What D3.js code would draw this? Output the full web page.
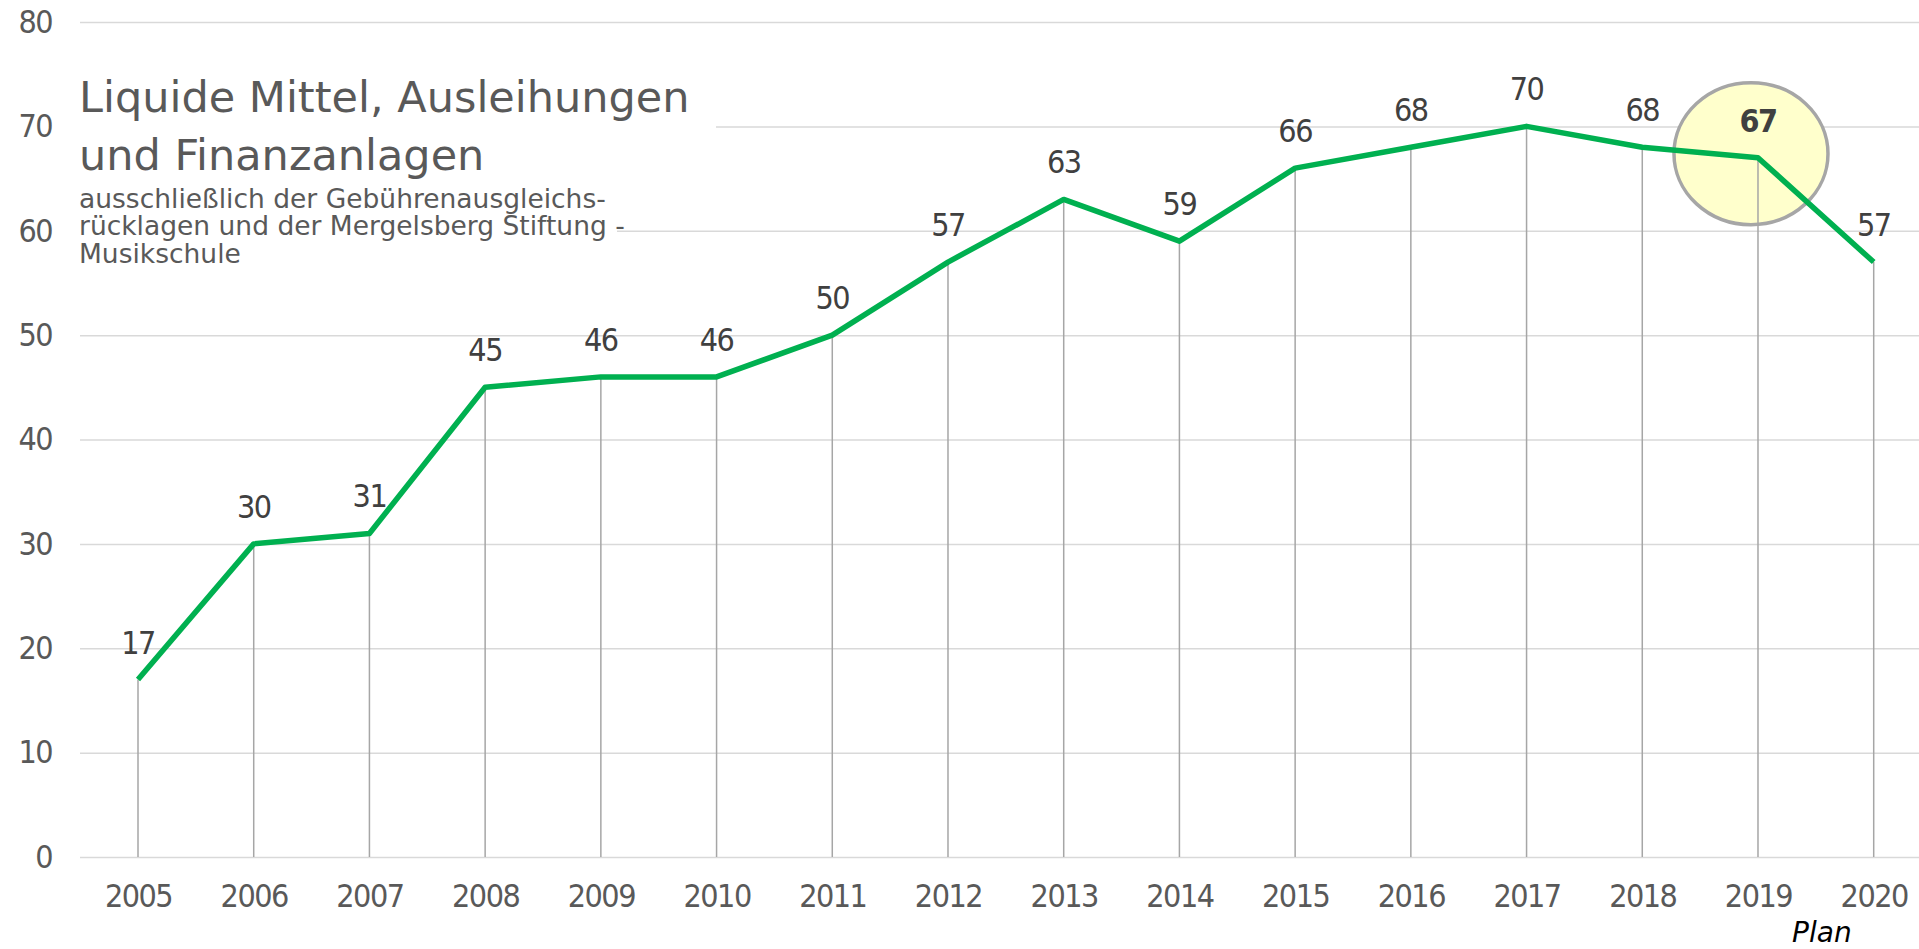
<!DOCTYPE html>
<html lang="de">
<head>
<meta charset="utf-8">
<title>Liquide Mittel, Ausleihungen und Finanzanlagen</title>
<script src="https://d3js.org/d3.v7.min.js"></script>
<style>
  body { margin: 0; background: #fff; }
  .num { font-family: "DejaVu Sans Condensed", "DejaVu Sans", sans-serif; font-stretch: condensed; letter-spacing: -1.5px; }
  .txt { font-family: "DejaVu Sans", sans-serif; }
</style>
</head>
<body>
<script>
// data
const years  = ["2005","2006","2007","2008","2009","2010","2011","2012","2013","2014","2015","2016","2017","2018","2019","2020"];
const values = [17, 30, 31, 45, 46, 46, 50, 57, 63, 59, 66, 68, 70, 68, 67, 57];
const yTicks = [0, 10, 20, 30, 40, 50, 60, 70, 80];
const highlightYear = "2019";
const planYear = "2020";
const titleLines = ["Liquide Mittel, Ausleihungen", "und Finanzanlagen"];
const subLines = ["ausschließlich der Gebührenausgleichs-", "rücklagen und der Mergelsberg Stiftung -", "Musikschule"];

const width = 1919, height = 949;

const x = d3.scalePoint().domain(years).range([138, 1873.7]);
const y = d3.scaleLinear().domain([0, 80]).range([857, 22]);

const svg = d3.select("body").append("svg")
  .attr("width", width)
  .attr("height", height);

// gridlines
const grid = svg.append("g")
  .attr("transform", "translate(80,0)")
  .call(d3.axisRight(y).tickValues(yTicks).tickSize(width - 80).tickFormat(""));
grid.select(".domain").remove();
grid.selectAll("line").attr("stroke", "#d9d9d9").attr("stroke-width", 1.5);

// y labels
const yAxis = svg.append("g")
  .attr("class", "num")
  .attr("transform", "translate(52,0)")
  .call(d3.axisLeft(y).tickValues(yTicks).tickSize(0).tickPadding(0));
yAxis.select(".domain").remove();
yAxis.selectAll("text").attr("fill", "#595959").style("font-size", "32px");

// x labels
const xAxis = svg.append("g")
  .attr("class", "num")
  .attr("transform", `translate(0,${y(0)})`)
  .call(d3.axisBottom(x).tickSize(0));
xAxis.select(".domain").remove();
xAxis.selectAll("text").attr("fill", "#595959").style("font-size", "32px")
  .attr("y", 50).attr("dy", 0);

svg.append("text")
  .attr("class", "txt")
  .attr("x", x(planYear) - 22)
  .attr("y", 942)
  .attr("text-anchor", "end")
  .attr("font-style", "italic")
  .attr("font-size", 28)
  .attr("fill", "#000")
  .text("Plan");

// title boxes (white background hides gridlines)
svg.append("rect").attr("x", 78).attr("y", 66).attr("width", 638).attr("height", 116).attr("fill", "#fff");
svg.append("rect").attr("x", 78).attr("y", 186).attr("width", 539).attr("height", 86).attr("fill", "#fff");

svg.append("g").attr("class", "txt")
  .selectAll("text").data(titleLines).join("text")
  .attr("x", 79)
  .attr("y", (d, i) => 112 + i * 58)
  .attr("font-size", 43)
  .attr("fill", "#595959")
  .text(d => d);

svg.append("g").attr("class", "txt")
  .selectAll("text").data(subLines).join("text")
  .attr("x", 79)
  .attr("y", (d, i) => 208 + i * 27.3)
  .attr("font-size", 26.5)
  .attr("fill", "#595959")
  .text(d => d);

const data = years.map((yr, i) => ({ year: yr, value: values[i] }));

// highlight ellipse
const hl = data.find(d => d.year === highlightYear);
svg.append("ellipse")
  .attr("cx", x(hl.year) - 7)
  .attr("cy", y(hl.value) - 4)
  .attr("rx", 77)
  .attr("ry", 71)
  .attr("fill", "#ffffcc")
  .attr("stroke", "#a6a6a6")
  .attr("stroke-width", 3.5);

// drop lines
svg.append("g").selectAll("line").data(data).join("line")
  .attr("x1", d => x(d.year)).attr("x2", d => x(d.year))
  .attr("y1", d => y(d.value)).attr("y2", y(0))
  .attr("stroke", "#a6a6a6")
  .attr("stroke-width", 1.5);

// line
svg.append("path")
  .datum(data)
  .attr("fill", "none")
  .attr("stroke", "#00b050")
  .attr("stroke-width", 5.5)
  .attr("stroke-linejoin", "round")
  .attr("d", d3.line().x(d => x(d.year)).y(d => y(d.value)));

// value labels
svg.append("g").attr("class", "num")
  .selectAll("text").data(data).join("text")
  .attr("x", d => x(d.year))
  .attr("y", d => y(d.value) - 26)
  .attr("text-anchor", "middle")
  .attr("font-size", 32)
  .attr("font-weight", d => d.year === highlightYear ? "bold" : "normal")
  .attr("fill", "#404040")
  .text(d => d.value);
</script>
</body>
</html>
